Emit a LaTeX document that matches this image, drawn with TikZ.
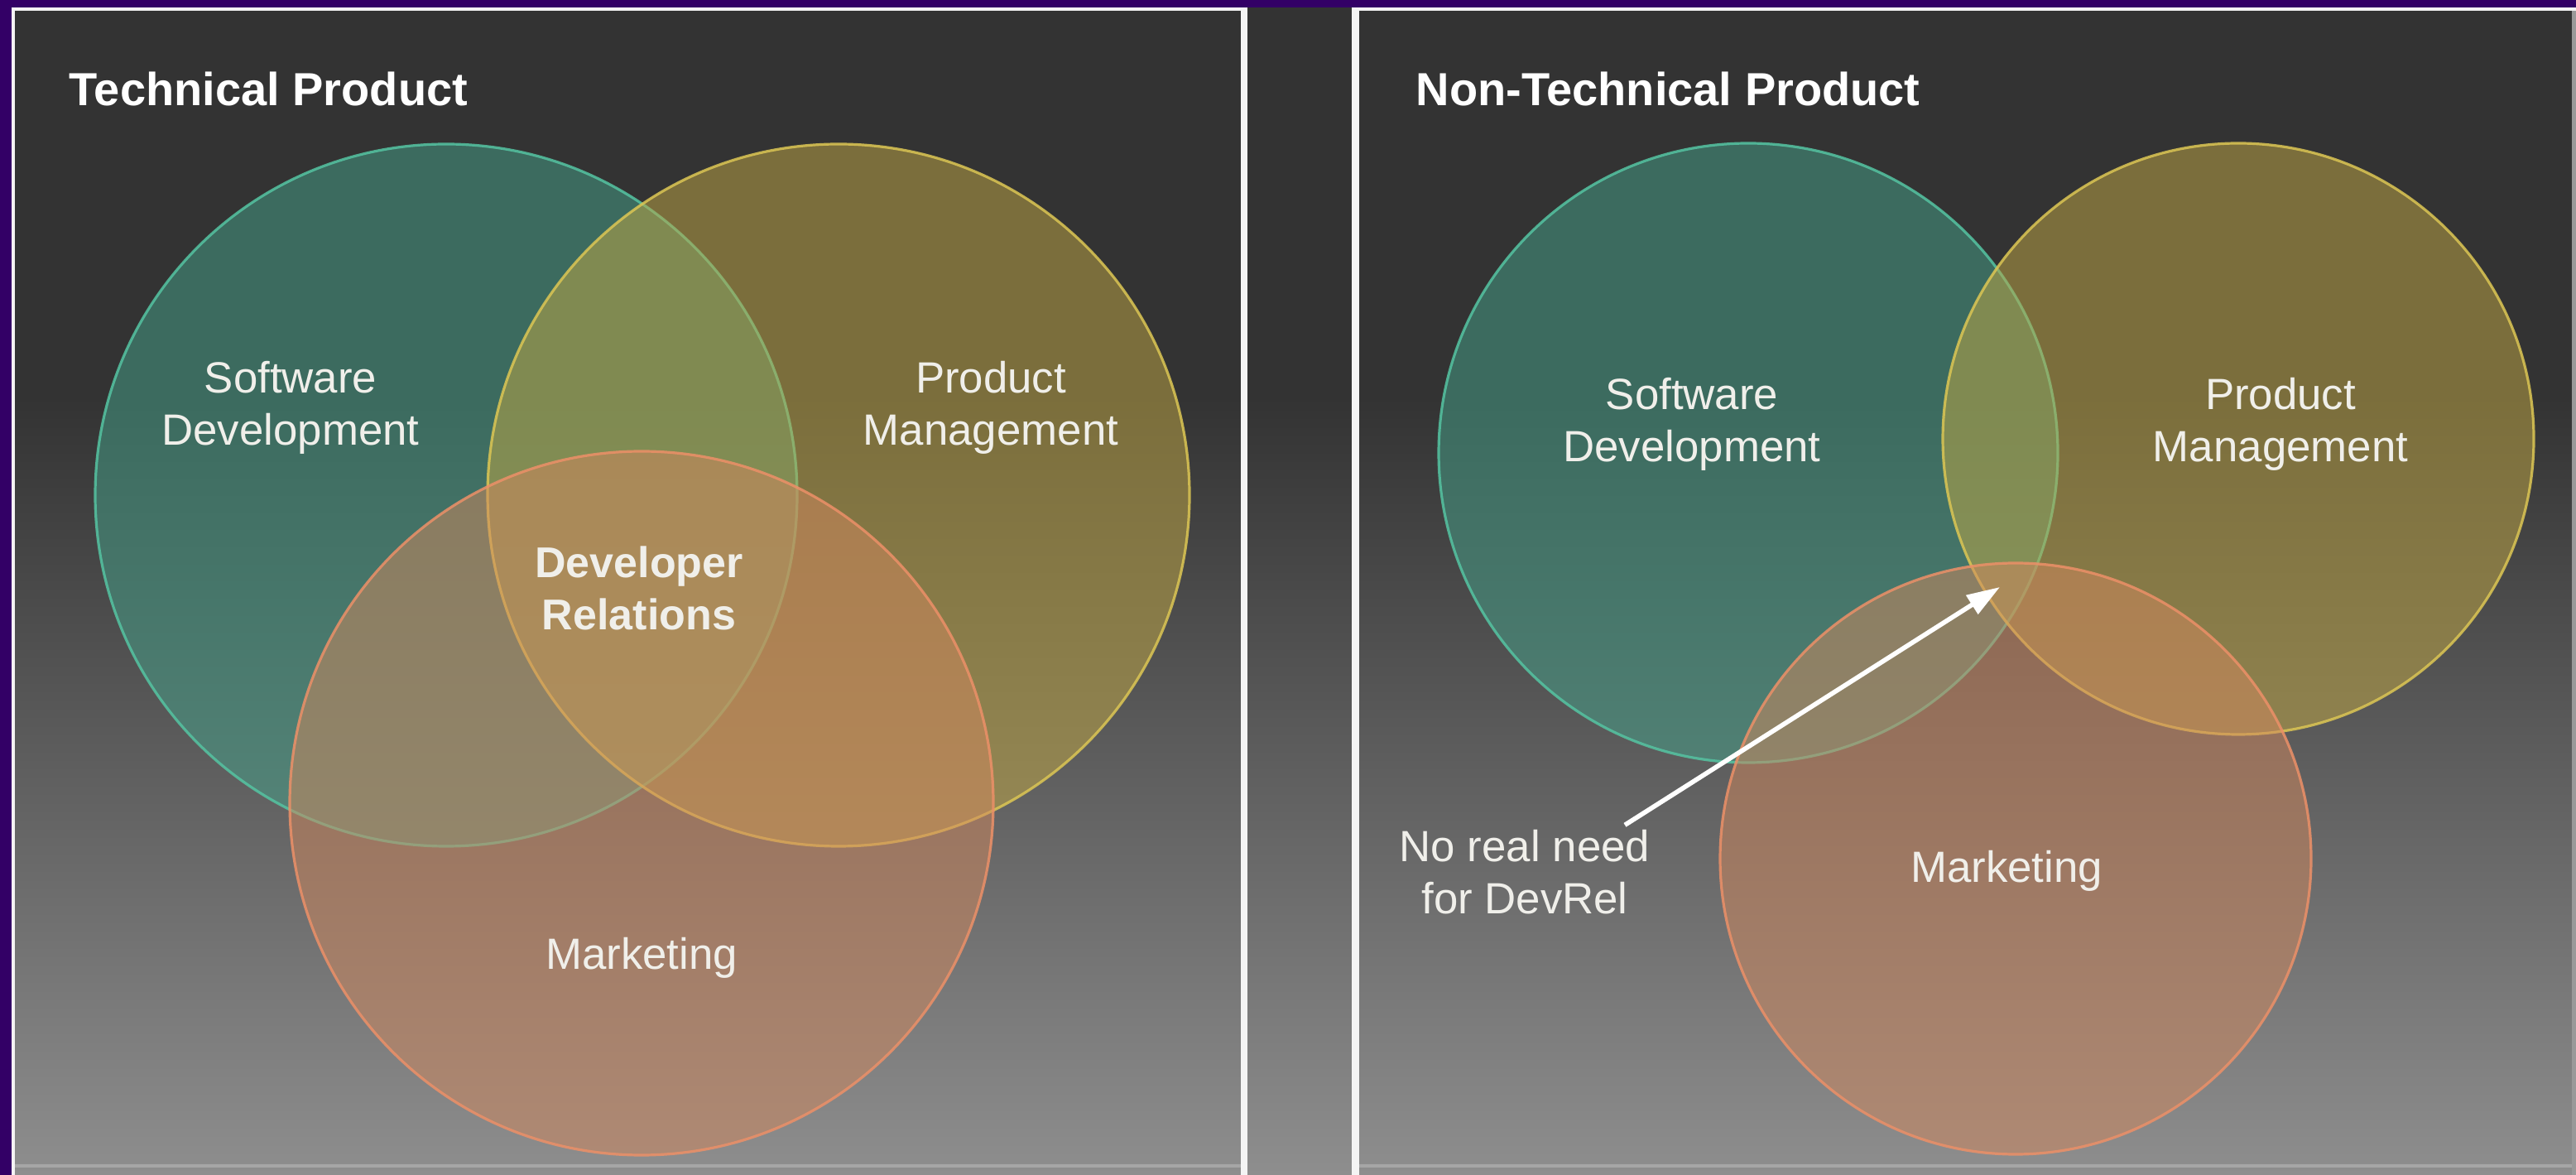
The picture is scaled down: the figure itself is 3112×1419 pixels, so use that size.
\documentclass[tikz,border=0pt]{standalone}
\usepackage{fontspec}
\setmainfont{Liberation Sans}
\usetikzlibrary{arrows.meta}
\definecolor{purp}{HTML}{330066}
\definecolor{bgtop}{HTML}{333333}
\definecolor{bgbot}{HTML}{8E8E8E}
\definecolor{edgew}{HTML}{F4F4F4}
\definecolor{gFill}{HTML}{45A38B}
\definecolor{gLine}{HTML}{55C4A2}
\definecolor{yFill}{HTML}{C4AA45}
\definecolor{yLine}{HTML}{DCC654}
\definecolor{oFill}{HTML}{D2885E}
\definecolor{oLine}{HTML}{EC9068}
\definecolor{txtc}{HTML}{F0EFEA}
\begin{document}
\begin{tikzpicture}[x=0.25pt,y=-0.25pt,
  vc/.style={line width=0.8pt, fill opacity=0.5, draw opacity=0.85},
  gcirc/.style={vc, draw=gLine, fill=gFill},
  ycirc/.style={vc, draw=yLine, fill=yFill},
  ocirc/.style={vc, draw=oLine, fill=oFill},
  lbl/.style={text=txtc, align=center, inner sep=0pt, font=\fontsize{13.2}{15.75}\selectfont},
  blbl/.style={lbl, font=\bfseries\fontsize{13}{15.75}\selectfont},
  ttl/.style={text=white, anchor=west, inner sep=0pt, font=\bfseries\fontsize{14}{16}\selectfont},
  arr/.style={draw=white, line width=1.4pt, -{Triangle[length=10pt,width=6.5pt]}}]
\useasboundingbox (0,0) rectangle (3112,1419);
% frame and background
\fill[purp] (0,0) rectangle (3112,1419);
\fill[bgtop] (14,9) rectangle (3112,481);
\shade[top color=bgtop, bottom color=bgbot] (14,480) rectangle (3112,1419);
% panel borders
\fill[edgew] (14,9) rectangle (1507,13);
\fill[edgew] (14,9) rectangle (18,1419);
\fill[edgew] (1499,9) rectangle (1507,1419);
\fill[edgew] (1633,9) rectangle (1642,1419);
\fill[edgew] (1633,9) rectangle (3112,13);
\fill[black!40] (3107,13) rectangle (3112,1419);
\fill[black!35] (18,1406) rectangle (1499,1410);
\fill[black!35] (1642,1406) rectangle (3107,1410);

% left panel: Technical Product
\draw[gcirc] (539,598) circle[radius=106pt];
\draw[ycirc] (1013,598) circle[radius=106pt];
\draw[ocirc] (775,970) circle[radius=106.25pt];
\node[ttl] (t1) at (83,108) {Technical Product};
\node[lbl] (sd1) at (351,492) {Software\\Development};
\node[lbl] (pm1) at (1197,492) {Product\\Management};
\node[blbl] (dr1) at (772,710) {Developer\\Relations};
\node[lbl] (mk1) at (775,1157) {Marketing};

% right panel: Non-Technical Product
\draw[gcirc] (2112,547) circle[radius=93.5pt];
\draw[ycirc] (2704,530) circle[radius=89.25pt];
\draw[ocirc] (2435,1037) circle[radius=89.25pt];
\node[ttl] (t2) at (1710,108) {Non-Technical Product};
\node[lbl] (sd2) at (2044,512) {Software\\Development};
\node[lbl] (pm2) at (2755,512) {Product\\Management};
\node[lbl] (mk2) at (2424,1052) {Marketing};
\node[lbl] (nr) at (1842,1053) {No real need\\for DevRel};
\coordinate (tip) at (2416,709);
\draw[arr] ([xshift=-7.75pt,yshift=1.25pt]nr.north east) -- (tip);
\end{tikzpicture}
\end{document}
